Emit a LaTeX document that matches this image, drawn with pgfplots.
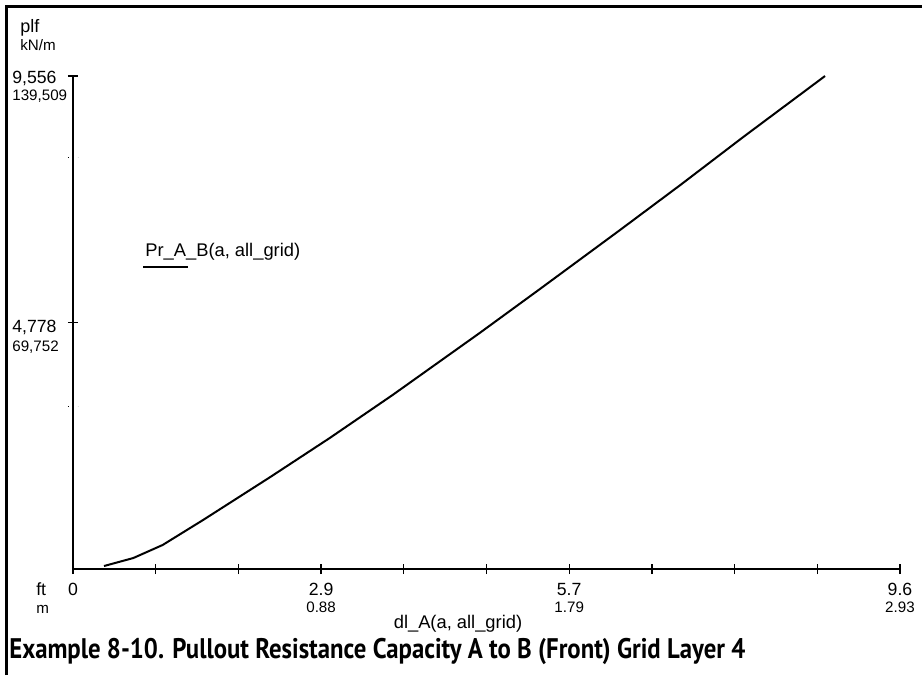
\documentclass[border=0pt]{standalone}
\usepackage{pgfplots}
\pgfplotsset{compat=1.18}
\usepackage{fontspec}
\setmainfont{Liberation Sans}
\newfontfamily\titlefont{PT Sans}
\newcommand{\lblbig}{\fontsize{10.6}{10.2}\selectfont}
\newcommand{\lblsml}{\fontsize{9.1}{10.2}\selectfont}
\begin{document}
\begin{tikzpicture}
% 1 px of the reference = 0.6pt
\path[use as bounding box] (0,0) rectangle (553.2pt,-405pt);
\draw[line width=1.8pt] (3.9pt,-405pt) -- (3.9pt,-3.9pt) -- (553.2pt,-3.9pt);

\begin{axis}[
  at={(43.8pt,-341.4pt)}, anchor=south west,
  scale only axis, width=496.2pt, height=295.8pt,
  xmin=0, xmax=9.6, ymin=0, ymax=9556,
  axis x line=bottom, axis y line=left,
  axis line style={-, line width=0.8pt},
  every tick/.style={black, line width=0.8pt},
  tick align=center, major tick length=6pt,
  xtick={0,0.96,1.92,2.88,3.84,4.8,5.76,6.72,7.68,8.64,9.6},
  xticklabels={0,,,{2.9\\\lblsml 0.88},,,{5.7\\\lblsml 1.79},,,,{9.6\\\lblsml 2.93}},
  xticklabel style={font=\lblbig, align=center, anchor=north, yshift=-2pt},
  ytick={4778,9556}, yticklabels={},
  extra y ticks={3159,7985}, extra y tick labels={},
  extra y tick style={tick style={line width=0.6pt, dash pattern=on 0.6pt off 5.4pt}},
  clip=false,
]
\addplot[black, line width=1.2pt] coordinates {
  (0.36,58) (0.70,213) (1.04,465) (1.51,950) (2.29,1783) (2.98,2539)
  (3.71,3373) (4.72,4574) (5.42,5427) (6.35,6571) (7.05,7443)
  (7.78,8373) (8.73,9556)
};
\end{axis}

% axis units and y tick values
\node[anchor=base west, inner sep=0, font=\fontsize{10.8}{11}\selectfont] at (12pt,-19.2pt) {plf};
\node[anchor=base west, inner sep=0, font=\lblsml] at (12pt,-30pt) {kN/m};
\node[anchor=base west, inner sep=0, font=\lblbig] at (7.2pt,-49.8pt) {9,556};
\node[anchor=base west, inner sep=0, font=\lblsml] at (7.2pt,-60pt) {139,509};
\node[anchor=base west, inner sep=0, font=\lblbig] at (7.2pt,-199.2pt) {4,778};
\node[anchor=base west, inner sep=0, font=\lblsml] at (7.2pt,-210.6pt) {69,752};
\node[anchor=base west, inner sep=0, font=\lblbig] at (21.6pt,-357pt) {ft};
\node[anchor=base west, inner sep=0, font=\lblsml] at (21.6pt,-367.8pt) {m};
\node[anchor=base, inner sep=0, font=\fontsize{11}{12}\selectfont] at (274.8pt,-376.8pt) {dl\_A(a, all\_grid)};

% legend
\node[anchor=base west, inner sep=0, font=\fontsize{11}{12}\selectfont] at (87pt,-153.6pt) {Pr\_A\_B(a, all\_grid)};
\draw[line width=1.2pt] (85.8pt,-160pt) -- (112.8pt,-160pt);

% caption
\node[anchor=base west, inner sep=0] at (5.4pt,-394.8pt)
  {\resizebox{441.6pt}{\height}{\titlefont\bfseries\fontsize{17}{18}\selectfont Example 8-10. Pullout Resistance Capacity A to B (Front) Grid Layer 4}};
\end{tikzpicture}
\end{document}
